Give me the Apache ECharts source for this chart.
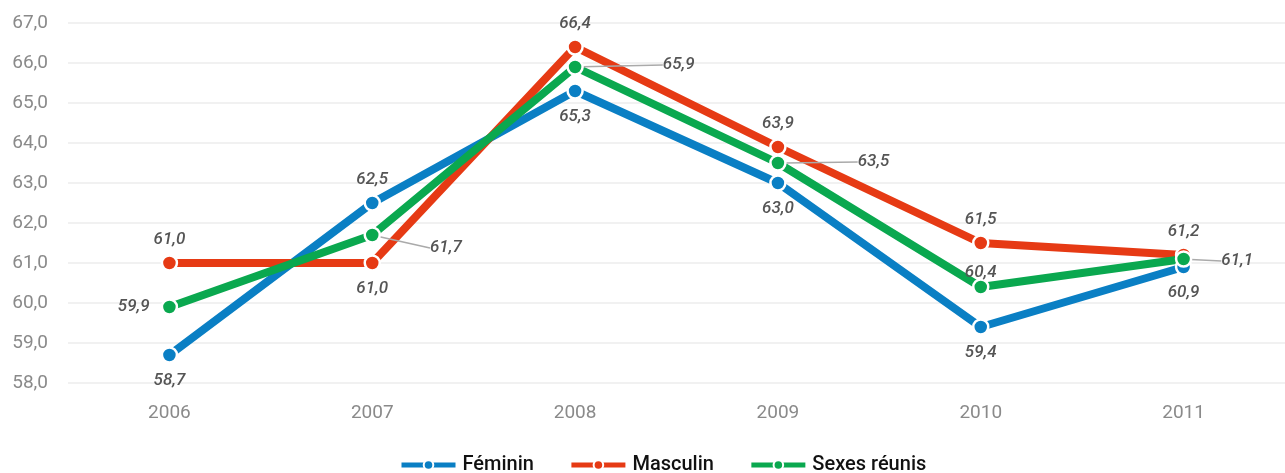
<!DOCTYPE html>
<html>
<head>
<meta charset="utf-8">
<script src="https://cdn.jsdelivr.net/npm/echarts@6/dist/echarts.min.js"></script>
<style>
  html, body { margin: 0; padding: 0; background: #fff; }
  #chart { width: 1285px; height: 473px; }
</style>
</head>
<body>
<div id="chart"></div>
<script>
const years = ["2006", "2007", "2008", "2009", "2010", "2011"];
const feminin = [58.7, 62.5, 65.3, 63.0, 59.4, 60.9];
const masculin = [61.0, 61.0, 66.4, 63.9, 61.5, 61.2];
const reunis = [59.9, 61.7, 65.9, 63.5, 60.4, 61.1];

// où placer chaque étiquette
const posFem = ["bottom", "top", "bottom", "bottom", "bottom", "bottom"];
const posMas = ["top", "bottom", "top", "top", "top", "top"];
const posReu = ["left", "right", "right", "right", "top", "right"];
// décalage des étiquettes (vert), trait de rappel si true
const shiftReu = [null, [38, 13], [68, -2], [60, -1], [0, 9], [18, 2]];
const lineReu = [false, true, true, true, false, true];

const fmt = v => v.toFixed(1).replace(".", ",");
const dist = { top: 6, bottom: 8, left: 11, right: 11 };

const labelBase = {
  show: true,
  fontFamily: "Roboto",
  fontStyle: "italic",
  fontWeight: 500,
  fontSize: 17,
  color: "#555",
  formatter: p => fmt(p.value)
};

function mkData(vals, pos, lines) {
  return vals.map((v, i) => {
    const d = { value: v, label: { position: pos[i], distance: dist[pos[i]] } };
    if (lines) d.labelLine = { show: lines[i] };
    return d;
  });
}

const chart = echarts.init(document.getElementById("chart"));

function mkSeries(name, color, vals, pos, lines, extra) {
  return Object.assign({
    name: name,
    type: "line",
    data: mkData(vals, pos, lines),
    symbol: "circle",
    symbolSize: 15,
    lineStyle: { width: 8, color: color },
    itemStyle: { color: color, borderColor: "#fff", borderWidth: 2.5 },
    label: labelBase
  }, extra || {});
}

const option = {
  animation: false,
  grid: { left: 68, right: 0, top: 23, bottom: 90 },
  legend: {
    top: 450,
    left: 394,
    itemWidth: 54,
    itemHeight: 12,
    itemGap: 35,
    lineStyle: { width: 5 },
    textStyle: { fontFamily: "Roboto", fontSize: 20, fontWeight: 500, color: "#111", padding: [0, 0, 0, 2] },
    data: ["Féminin", "Masculin", "Sexes réunis"]
  },
  xAxis: {
    type: "category",
    data: years,
    boundaryGap: true,
    axisLine: { show: false },
    axisTick: { show: false },
    axisLabel: { fontFamily: "Roboto", fontSize: 19, color: "#8a8a8a", margin: 21 }
  },
  yAxis: {
    type: "value",
    min: 58,
    max: 67,
    interval: 1,
    axisLine: { show: false },
    axisTick: { show: false },
    splitLine: { lineStyle: { color: "#ececec", width: 1.5 } },
    axisLabel: {
      fontFamily: "Roboto",
      fontSize: 19,
      color: "#8a8a8a",
      margin: 20,
      formatter: v => fmt(v)
    }
  },
  series: [
    mkSeries("Féminin", "#0a7fc4", feminin, posFem),
    mkSeries("Masculin", "#e63a14", masculin, posMas),
    mkSeries("Sexes réunis", "#0aa84f", reunis, posReu, lineReu, {
      labelLine: { show: true, lineStyle: { color: "#aaa", width: 1.5 } },
      labelLayout: function (p) {
        const s = shiftReu[p.dataIndex];
        if (!s) return {};
        return { dx: s[0], dy: s[1] };
      }
    })
  ]
};
chart.setOption(option);
</script>
</body>
</html>
